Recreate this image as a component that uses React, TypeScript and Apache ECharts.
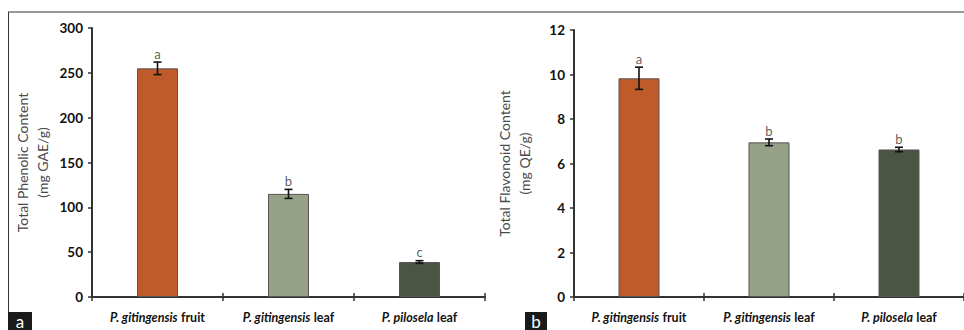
import React, { useEffect, useRef } from "react";
import * as echarts from "echarts";

const species = ["P. gitingensis", "P. gitingensis", "P. pilosela"];
const parts = ["fruit", "leaf", "leaf"];
const categories = ["P. gitingensis fruit", "P. gitingensis leaf", "P. pilosela leaf"];

const phenolic = [255, 115, 39];
const phenolicErr = [7, 5, 1.5];
const phenolicLetters = ["a", "b", "c"];

const flavonoid = [9.83, 6.95, 6.63];
const flavonoidErr = [0.5, 0.15, 0.1];
const flavonoidLetters = ["a", "b", "b"];

const barColors = ["#BF5A2B", "#96A188", "#4B5544"];

const FONT = "Lato, 'Open Sans', sans-serif";

function errSeries(xi: number, yi: number, vals: number[], errs: number[]) {
  return {
    type: "custom",
    xAxisIndex: xi,
    yAxisIndex: yi,
    z: 10,
    itemStyle: { color: "#111" },
    data: vals.map((v, i) => [i, v, errs[i]]),
    renderItem: (_params: any, api: any) => {
      const i = api.value(0);
      const v = api.value(1);
      const e = api.value(2);
      const hi = api.coord([i, v + e]);
      const lo = api.coord([i, v - e]);
      const hw = 4;
      const st = { stroke: "#111", lineWidth: 1.6 };
      return {
        type: "group",
        children: [
          { type: "line", shape: { x1: hi[0], y1: hi[1], x2: lo[0], y2: lo[1] }, style: st },
          { type: "line", shape: { x1: hi[0] - hw, y1: hi[1], x2: hi[0] + hw, y2: hi[1] }, style: st },
          { type: "line", shape: { x1: lo[0] - hw, y1: lo[1], x2: lo[0] + hw, y2: lo[1] }, style: st },
        ],
      };
    },
  };
}

function letterSeries(xi: number, yi: number, vals: number[], errs: number[], letters: string[]) {
  return {
    type: "scatter",
    xAxisIndex: xi,
    yAxisIndex: yi,
    symbolSize: 0,
    z: 11,
    itemStyle: { color: "#333" },
    data: vals.map((v, i) => ({
      value: [i, v + errs[i]],
      label: { formatter: letters[i] },
    })),
    label: {
      show: true,
      position: "top",
      distance: 2,
      color: "#333",
      fontFamily: FONT,
      fontSize: 13,
    },
  };
}

function xAxes(gridIndex: number) {
  return [
    {
      type: "category",
      gridIndex,
      data: categories,
      axisLine: { lineStyle: { color: "#333", width: 2 } },
      axisTick: { show: true, length: 4, lineStyle: { color: "#333", width: 1.5 } },
      axisLabel: {
        interval: 0,
        hideOverlap: false,
        margin: 14,
        formatter: (_: string, idx: number) => `{i|${species[idx]}} {n|${parts[idx]}}`,
        rich: {
          i: { fontFamily: FONT, fontSize: 12.5, fontWeight: "bold", fontStyle: "italic", color: "#111" },
          n: { fontFamily: FONT, fontSize: 12.5, fontWeight: "bold", color: "#111" },
        },
      },
    },
    {
      type: "category",
      gridIndex,
      position: "bottom",
      data: categories,
      axisLine: { show: false },
      axisTick: { show: true, inside: true, length: 4, lineStyle: { color: "#333", width: 1.5 } },
      axisLabel: { show: false },
    },
  ];
}

function yAxis(gridIndex: number, max: number, interval: number, name: string) {
  return {
    type: "value",
    gridIndex,
    min: 0,
    max,
    interval,
    name,
    nameLocation: "middle",
    nameGap: 40,
    nameTextStyle: { fontFamily: FONT, fontSize: 14, color: "#4a4a4a", lineHeight: 20 },
    splitLine: { show: false },
    axisLine: { show: true, lineStyle: { color: "#333", width: 2 } },
    axisTick: { show: true, length: 4, lineStyle: { color: "#333", width: 1.5 } },
    axisLabel: { fontFamily: FONT, fontSize: 13.5, fontWeight: "bold", color: "#111", margin: 9 },
  };
}

function bars(xi: number, yi: number, vals: number[]) {
  return {
    type: "bar",
    xAxisIndex: xi,
    yAxisIndex: yi,
    barWidth: 41,
    data: vals.map((v, i) => ({
      value: v,
      itemStyle: { color: barColors[i], borderColor: "#555", borderWidth: 1 },
    })),
  };
}

export default function App() {
  const ref = useRef<HTMLDivElement>(null);
  useEffect(() => {
    document.body.style.margin = "0";
    const chart = echarts.init(ref.current!, null, { renderer: "svg" });
    chart.setOption({
      animation: false,
      backgroundColor: "#fff",
      grid: [
        { left: 92, top: 28, width: 393, height: 269 },
        { left: 574, top: 30, width: 390, height: 267 },
      ],
      xAxis: [...xAxes(0), ...xAxes(1)],
      yAxis: [
        yAxis(0, 300, 50, "Total Phenolic Content\n(mg GAE/g)"),
        yAxis(1, 12, 2, "Total Flavonoid Content\n(mg QE/g)"),
      ],
      series: [
        bars(0, 0, phenolic),
        errSeries(0, 0, phenolic, phenolicErr),
        letterSeries(0, 0, phenolic, phenolicErr, phenolicLetters),
        bars(2, 1, flavonoid),
        errSeries(2, 1, flavonoid, flavonoidErr),
        letterSeries(2, 1, flavonoid, flavonoidErr, flavonoidLetters),
      ],
      graphic: [
        { type: "line", shape: { x1: 8, y1: 12, x2: 964, y2: 12 }, style: { stroke: "#333", lineWidth: 1 } },
        { type: "line", shape: { x1: 8.5, y1: 12, x2: 8.5, y2: 312 }, style: { stroke: "#333", lineWidth: 1 } },
        { type: "rect", shape: { x: 8, y: 312, width: 24, height: 18 }, style: { fill: "#1a1a1a" } },
        {
          type: "text",
          x: 20,
          y: 321,
          style: { text: "a", fill: "#fff", font: `17px ${FONT}`, align: "center", verticalAlign: "middle" },
        },
        { type: "rect", shape: { x: 525, y: 312, width: 22, height: 18 }, style: { fill: "#1a1a1a" } },
        {
          type: "text",
          x: 536,
          y: 321,
          style: { text: "b", fill: "#fff", font: `17px ${FONT}`, align: "center", verticalAlign: "middle" },
        },
      ],
    });
    return () => chart.dispose();
  }, []);
  return <div ref={ref} style={{ width: 964, height: 330 }} />;
}
